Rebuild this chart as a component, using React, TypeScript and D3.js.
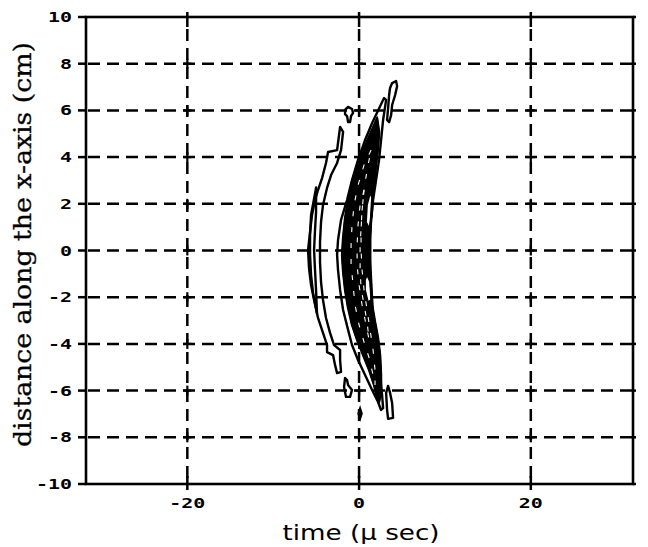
import React from "react";
import * as d3 from "d3";

const W = 648;
const H = 547;

const xTicks = [-20, 0, 20];
const yTicks = [-10, -8, -6, -4, -2, 0, 2, 4, 6, 8, 10];
const xTickLabels = ["-20", "0", "20"];
const yTickLabels = ["-10", "-8", "-6", "-4", "-2", "0", "2", "4", "6", "8", "10"];
const xGrid = [-20, 0, 20];
const yGrid = [-8, -6, -4, -2, 0, 2, 4, 6, 8];

// contour rings, [time (µs), distance (cm)]
const contourA: [number, number][] = [
  [-2.21, 5.29], [-2.56, 4.3], [-3.61, 4.22], [-3.85, 3.75], [-4.31, 3.1], [-4.78, 2.59], [-5.13, 2.16],
  [-5.48, 1.52], [-5.71, 0.79], [-5.94, 0.02], [-5.83, -0.75], [-5.59, -1.48], [-5.24, -2.12], [-4.78, -2.89],
  [-4.2, -3.53], [-3.73, -4.05], [-3.73, -4.35], [-3.03, -4.48], [-2.8, -4.9], [-2.56, -5.25],
  [-2.1, -5.2], [-2.21, -4.69], [-2.21, -4.26], [-2.91, -4.05], [-3.38, -3.53], [-3.85, -2.89], [-4.2, -2.12],
  [-4.43, -1.35], [-4.55, -0.49], [-4.55, 0.36], [-4.43, 1.22], [-4.2, 1.95], [-3.73, 2.68], [-3.26, 3.23],
  [-2.56, 3.75], [-2.1, 4.3], [-1.86, 5.08],
];
const contourA2: [number, number][] = [
  [-5.0, 2.7], [-5.59, 1.52], [-5.71, 0.66], [-5.71, -0.19], [-5.59, -1.05], [-5.36, -1.82], [-4.9, -2.7],
  [-5.01, -1.69], [-5.13, -0.84], [-5.24, 0.02], [-5.13, 0.88], [-5.01, 1.65],
];
const contourB: [number, number][] = [
  [2.91, 6.53], [1.52, 5.46], [0.7, 4.73], [-0.12, 3.88], [-0.82, 3.02], [-1.4, 2.16], [-2.1, 1.31],
  [-2.45, 0.45], [-2.56, -0.19], [-2.45, -0.84], [-2.21, -1.69], [-1.86, -2.55], [-1.28, -3.4], [-0.82, -4.05],
  [-0.12, -4.69], [0.7, -5.33], [1.52, -5.97], [2.21, -6.49], [2.56, -6.83], [2.8, -6.75], [2.68, -6.19],
  [2.56, -5.76], [2.45, -5.12], [2.33, -4.26], [1.98, -3.62], [1.63, -2.98], [1.52, -2.12], [1.4, -1.26],
  [1.28, -0.41], [1.28, 0.45], [1.4, 1.31], [1.63, 2.16], [1.98, 3.02], [2.33, 3.88], [2.56, 4.73],
  [2.8, 5.59], [3.15, 6.45],
];
// densely packed inner contours (rendered as a solid core)
const contourC1: [number, number][] = [
  [2.1, 5.67], [1.4, 5.08], [0.58, 4.39], [-0.23, 3.66], [-0.82, 2.93], [-1.28, 2.16], [-1.63, 1.39],
  [-1.86, 0.54], [-1.98, -0.19], [-1.86, -0.92], [-1.63, -1.69], [-1.28, -2.46], [-0.82, -3.19],
  [-0.23, -3.83], [0.47, -4.48], [1.17, -5.12], [1.75, -5.76], [2.1, -6.32], [2.33, -6.49], [2.56, -6.06],
  [2.56, -5.33], [2.45, -4.48], [2.21, -3.75], [1.86, -3.06], [1.52, -2.33], [1.4, -1.61], [1.28, -0.84],
  [1.28, -0.06], [1.28, 0.66], [1.4, 1.39], [1.52, 2.16], [1.75, 2.93], [1.98, 3.66], [2.21, 4.39],
  [2.33, 5.08],
];
const contourC3: [number, number][] = [
  [1.4, 4.3], [0.58, 3.66], [-0.12, 2.8], [-0.58, 1.95], [-0.82, 1.09], [-0.93, 0.24], [-0.93, -0.62],
  [-0.7, -1.48], [-0.47, -2.33], [0.0, -3.19], [0.58, -3.92], [1.17, -4.6], [1.63, -5.33], [1.86, -5.76],
  [1.86, -5.12], [1.63, -4.26], [1.28, -3.4], [0.93, -2.55], [0.58, -1.69], [0.35, -0.84], [0.23, 0.02],
  [0.23, 0.88], [0.35, 1.73], [0.58, 2.59], [0.93, 3.45],
];
const contourC5: [number, number][] = [
  [0.58, 2.59], [0.12, 1.95], [-0.12, 1.09], [-0.23, 0.24], [-0.23, -0.62], [0.0, -1.48], [0.35, -2.33],
  [0.82, -3.19], [1.17, -3.83], [0.93, -3.06], [0.58, -2.33], [0.23, -1.61], [0.12, -0.75], [0.12, 0.11],
  [0.23, 0.96], [0.35, 1.73],
];
// small low-level pockets inside the core
const pocketUpper: [number, number][] = [
  [1.28, 2.46], [1.63, 2.16], [1.52, 1.52], [1.17, 0.96], [0.82, 1.22], [0.93, 1.95],
];
const pocketLower: [number, number][] = [
  [0.93, -1.05], [1.28, -1.35], [1.4, -2.12], [1.05, -2.21], [0.7, -1.69], [0.7, -1.26],
];
const loopTopSmall: [number, number][] = [
  [-1.63, 6.02], [-1.28, 6.15], [-0.82, 6.06], [-0.7, 5.89], [-0.93, 5.76], [-1.05, 5.5], [-1.28, 5.5],
  [-1.4, 5.76], [-1.63, 5.84],
];
const loopTopRight: [number, number][] = [
  [3.85, 7.17], [4.31, 7.26], [4.43, 7.04], [4.2, 6.66], [3.85, 6.23], [3.73, 5.8], [3.5, 5.5],
  [3.26, 5.59], [3.38, 6.1], [3.5, 6.66], [3.61, 6.96],
];
const loopBottomLeft: [number, number][] = [
  [-1.63, -5.46], [-1.75, -5.85], [-1.52, -6.27], [-1.05, -6.27], [-0.82, -5.97], [-1.28, -5.76], [-1.4, -5.55],
];
const loopBottomRight: [number, number][] = [
  [3.38, -5.8], [3.15, -6.1], [3.26, -6.83], [3.38, -7.21], [3.96, -7.17], [3.85, -6.53], [3.61, -6.1],
];
const dotBottom: [number, number][] = [
  [0.12, -6.72], [0.35, -6.98], [0.12, -7.24], [-0.12, -6.98],
];

const contourRings = [
  contourA, contourA2, contourB, contourC1,
  loopTopSmall, loopTopRight, loopBottomLeft, loopBottomRight,
];
const filledRings = [contourC1, dotBottom];
const gapRings = [contourC3, contourC5];
const pocketRings = [pocketUpper, pocketLower];

export default function App() {
  const x = d3.scaleLinear().domain([-31.8, 31.9]).range([86, 633]);
  const y = d3.scaleLinear().domain([-10, 10]).range([484, 17]);
  const line = d3
    .line<[number, number]>()
    .x((d) => x(d[0]))
    .y((d) => y(d[1]))
    .curve(d3.curveLinearClosed);

  const x0 = x.range()[0];
  const x1 = x.range()[1];
  const yT = y.range()[1];
  const yB = y.range()[0];
  const tickFont = "'DejaVu Sans Mono', monospace";

  return (
    <svg
      width={W}
      height={H}
      style={{ position: "absolute", left: 0, top: 0, background: "#fff" }}
    >
      <rect x={0} y={0} width={W} height={H} fill="#fff" />
      {/* grid */}
      <g stroke="#000" strokeWidth={2.5} strokeDasharray="12 7" fill="none">
        {xGrid.map((v) => (
          <line key={"gx" + v} x1={x(v)} x2={x(v)} y1={yT + 12} y2={yB} />
        ))}
        {yGrid.map((v) => (
          <line key={"gy" + v} x1={x0 + 2} x2={x1} y1={y(v)} y2={y(v)} />
        ))}
      </g>
      {/* crosses at grid intersections */}
      <g stroke="#000" strokeWidth={2.2}>
        {xGrid.map((gx) =>
          yGrid.map((gy) => (
            <g key={"c" + gx + "_" + gy}>
              <line x1={x(gx) - 4} x2={x(gx) + 4} y1={y(gy)} y2={y(gy)} />
              <line x1={x(gx)} x2={x(gx)} y1={y(gy) - 5} y2={y(gy) + 5} />
            </g>
          ))
        )}
      </g>
      {/* contours */}
      <g stroke="#000" strokeWidth={1.5} fill="#000">
        {filledRings.map((r, i) => (
          <path key={"f" + i} d={line(r) || ""} />
        ))}
      </g>
      <g stroke="#000" strokeWidth={1.6} fill="#fff">
        {pocketRings.map((r, i) => (
          <path key={"p" + i} d={line(r) || ""} />
        ))}
      </g>
      <g stroke="#000" strokeWidth={2.4} fill="none" strokeLinejoin="round">
        {contourRings.map((r, i) => (
          <path key={"r" + i} d={line(r) || ""} />
        ))}
      </g>
      <g stroke="#fff" strokeWidth={1.1} fill="none" strokeDasharray="5 11">
        {gapRings.map((r, i) => (
          <path key={"g" + i} d={line(r) || ""} />
        ))}
      </g>
      {/* frame */}
      <rect x={x0} y={yT} width={x1 - x0} height={yB - yT} fill="none" stroke="#000" strokeWidth={2.6} />
      {/* ticks */}
      <g stroke="#000" strokeWidth={2.5}>
        {yTicks.map((v) => (
          <g key={"ty" + v}>
            <line x1={x0 - 8} x2={x0} y1={y(v)} y2={y(v)} />
            <line x1={x1} x2={x1 + 3} y1={y(v)} y2={y(v)} />
          </g>
        ))}
        {xTicks.map((v) => (
          <g key={"tx" + v}>
            <line x1={x(v)} x2={x(v)} y1={yB - 8} y2={yB + 6} />
            <line x1={x(v)} x2={x(v)} y1={yT - 5} y2={yT + 10} />
          </g>
        ))}
      </g>
      {/* tick labels */}
      <g fontFamily={tickFont} fontWeight="bold" fontSize={14} fill="#000">
        {yTicks.map((v, i) => (
          <text
            key={"ly" + v}
            x={x0 - 14}
            y={y(v)}
            dy="0.36em"
            textAnchor="end"
            textLength={yTickLabels[i].length * 12}
            lengthAdjust="spacingAndGlyphs"
          >
            {yTickLabels[i]}
          </text>
        ))}
        {xTicks.map((v, i) => (
          <text
            key={"lx" + v}
            x={x(v)}
            y={yB + 24}
            textAnchor="middle"
            textLength={xTickLabels[i].length * 12}
            lengthAdjust="spacingAndGlyphs"
          >
            {xTickLabels[i]}
          </text>
        ))}
      </g>
      {/* axis titles */}
      <text
        x={361}
        y={540}
        textAnchor="middle"
        fontFamily="'DejaVu Sans', sans-serif"
        fontSize={22}
        fill="#000"
        textLength={157}
        lengthAdjust="spacingAndGlyphs"
      >
        time (µ sec)
      </text>
      <text
        transform={`translate(31, ${(42 + 447) / 2}) rotate(-90)`}
        textAnchor="middle"
        fontFamily="'DejaVu Serif', serif"
        fontSize={24}
        fill="#000"
        stroke="#000"
        strokeWidth={0.3}
        textLength={405}
        lengthAdjust="spacingAndGlyphs"
      >
        distance along the x-axis (cm)
      </text>
    </svg>
  );
}
